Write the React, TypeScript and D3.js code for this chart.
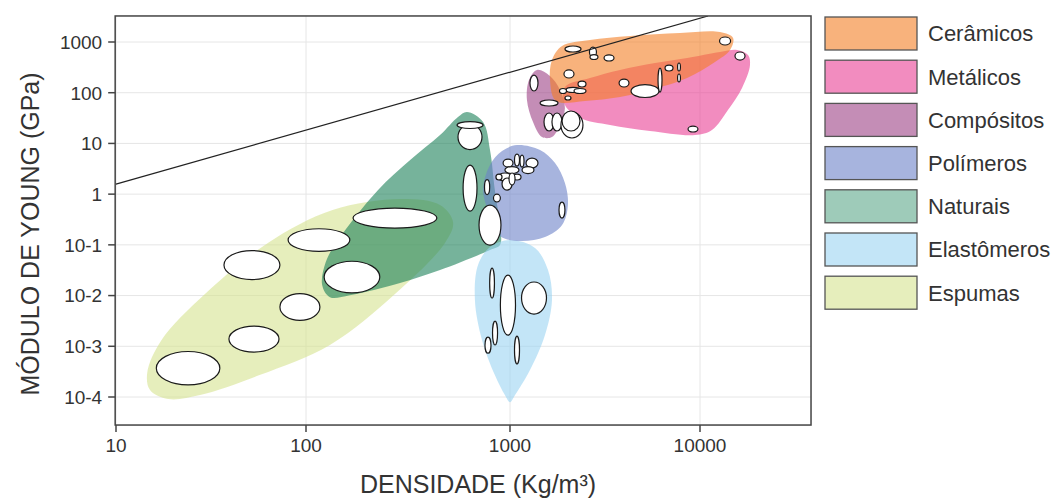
import React from "react";
import * as d3 from "d3";

// ---------- axis values ----------
const densityTicks = [10, 100, 1000, 10000];
const densityTickLabels = ["10", "100", "1000", "10000"];
const modulusTicks = [1000, 100, 10, 1, 0.1, 0.01, 0.001, 0.0001];
const modulusTickLabels = ["1000", "100", "10", "1", "10-1", "10-2", "10-3", "10-4"];
const densityDomain = [9.9, 38400];
const modulusDomain = [2.8e-5, 3260];

// ---------- families ----------
const families = ["Cerâmicos", "Metálicos", "Compósitos", "Polímeros", "Naturais", "Elastômeros", "Espumas"];

// outlines: [density kg/m3, Young modulus GPa]
const ceramicosOutline = [[1663, 441], [1879, 834], [2636, 1095], [4285, 1313], [7848, 1506], [12740, 1574], [14930, 1199], [14390, 695], [11990, 404], [8551, 195], [5453, 113], [3793, 82.2], [2483, 68.6], [1746, 68.6], [1624, 178]];
const metalicosOutline = [[1946, 129.5], [2636, 195], [3793, 281], [5796, 385], [8551, 483], [12740, 635], [15670, 695], [17900, 555], [18330, 351], [16640, 124], [14030, 45.6], [11560, 18.4], [9420, 14.6], [5453, 17.6], [3360, 23.1], [2336, 31.7], [1946, 57.1]];
const compositosOutline = [[1387, 281], [1624, 213], [1833, 113], [1946, 50], [1833, 23.1], [1663, 13.4], [1473, 13.4], [1322, 26.4], [1228, 72], [1259, 178]];
const polimerosOutline = [[1089, 9.29], [1439, 7.41], [1726, 4.1], [1946, 1.66], [2018, 0.61], [1879, 0.246], [1528, 0.143], [1129, 0.119], [893, 0.149], [798, 0.387], [738, 1.2], [798, 3.75], [914, 7.08]];
const naturaisOutline = [[615, 41.6], [738, 26.4], [798, 7.41], [843, 1.2], [893, 0.246], [893, 0.099], [798, 0.079], [454, 0.0318], [289, 0.0177], [164, 0.0102], [131, 0.0093], [120, 0.0161], [125, 0.0458], [143.5, 0.124], [225, 1.2], [324, 4.71], [454, 14.6], [556, 33.2]];
const elastomerosOutline = [[1000, 0.124], [1354, 0.0865], [1585, 0.0318], [1663, 0.00815], [1528, 0.00166], [1274, 0.00034], [1063, 0.000109], [1000, 0.000079], [944, 0.000109], [843, 0.00027], [729, 0.00133], [673, 0.00815], [697, 0.04], [798, 0.0906]];
const espumasOutline = [[14.6, 3.0e-4], [17.3, 1.3e-3], [29.4, 0.0107], [63, 0.109], [135, 0.485], [289, 0.8], [454, 0.61], [526, 0.28], [480, 0.109], [273, 0.0107], [131, 1.06e-3], [57, 2.7e-4], [27.7, 1.09e-4], [18.8, 9.1e-5], [15.1, 1.37e-4]];

// material ranges: [density min, density max, modulus min, modulus max]
const ceramicosRanges = [[1946, 2366, 635, 834], [2619, 2851, 506, 796], [2636, 2904, 452, 566], [3126, 3527, 422, 555], [12670, 14490, 873, 1255], [1923, 2172, 195, 281], [2280, 2512, 129.5, 170], [1972, 2336, 101, 127], [2172, 2512, 96.4, 121], [1822, 1983, 96.4, 121], [1946, 2094, 71.8, 86.1], [3750, 4229, 129.5, 186], [4335, 6085, 80.4, 145], [6012, 6310, 103, 307], [6546, 7211, 268, 351], [7621, 7889, 268, 385], [7621, 7889, 163, 234]];
const metalicosRanges = [[15280, 17260, 441, 635], [8650, 9755, 16.8, 22.0]];
const compositosRanges = [[1274, 1404, 108, 223], [1439, 1790, 54.7, 71.8], [1510, 1706, 17.6, 39.8], [1663, 1879, 17.6, 39.8], [1854, 2421, 12.8, 41.6], [1879, 2336, 17.6, 43.6]];
const polimerosRanges = [[925, 1037, 3.42, 4.92], [1056, 1122, 3.58, 6.18], [1129, 1185, 3.42, 5.9], [1214, 1404, 3.27, 5.15], [1157, 1337, 2.55, 3.5], [944, 1115, 2.55, 3.5], [873, 1025, 1.81, 2.61], [914, 1025, 1.2, 2.08], [1037, 1143, 1.9, 2.49], [989, 1063, 1.51, 2.61], [853, 914, 1.9, 2.49], [1811, 1946, 0.338, 0.698]];
const naturaisRanges = [[556, 729, 7.58, 23.6], [550, 738, 19.7, 27.0], [589, 689, 0.464, 3.75], [750, 795, 0.98, 1.94], [830, 897, 0.7, 1.0], [705, 903, 0.099, 0.61]];
const elastomerosRanges = [[795, 839, 0.0089, 0.0348], [897, 1069, 0.00166, 0.0254], [1150, 1556, 0.00432, 0.0185], [821, 869, 0.00106, 0.00314], [754, 807, 0.00073, 0.00152], [1056, 1122, 0.000446, 0.00159]];
const espumasRanges = [[16.3, 35.2, 1.74e-4, 7.9e-4], [39.3, 72.1, 7.7e-4, 2.5e-3], [72.9, 117, 3.24e-3, 0.0109], [37, 72.9, 0.0207, 0.0773], [80.5, 164, 0.0745, 0.208], [122.7, 230, 0.0113, 0.0475], [170, 438, 0.214, 0.532]];

// guide line
const guideLine = [[10, 1.58], [11020, 3260]];

// ---------- styles ----------
const legendColors = ["#f8b27c", "#f28cbf", "#c48db6", "#a7b4de", "#9ecbb9", "#c3e5f7", "#e6eebc"];
// semi-transparent fills (opacity 0.6) chosen so they read like the legend colours over white
const plotColors = ["#f37f25", "#e93f94", "#9d4185", "#6c82c8", "#1b8058", "#9bd4f2", "#d5e38f"];
const FILL_OPACITY = 0.6;
const FONT = "'Liberation Sans', Arial, Helvetica, sans-serif";

export default function App() {
  const x = d3.scaleLog().domain([10, 100, 1000, 10000]).range([116, 306, 510, 700]);
  const y = d3.scaleLog().domain([1000, 0.0001]).range([42, 397]);

  const left = x(densityDomain[0]);
  const right = x(densityDomain[1]);
  const top = y(modulusDomain[1]);
  const bottom = y(modulusDomain[0]);

  const outlines = [ceramicosOutline, metalicosOutline, compositosOutline, polimerosOutline, naturaisOutline, elastomerosOutline, espumasOutline];
  const ranges = [ceramicosRanges, metalicosRanges, compositosRanges, polimerosRanges, naturaisRanges, elastomerosRanges, espumasRanges];
  const drawOrder = [6, 4, 5, 3, 2, 1, 0];

  const blob = d3
    .line<number[]>()
    .x((d) => x(d[0]))
    .y((d) => y(d[1]))
    .curve(d3.curveCatmullRomClosed.alpha(0.5));

  const straight = d3
    .line<number[]>()
    .x((d) => x(d[0]))
    .y((d) => y(d[1]));

  const legendX = 825;
  const legendTop = 17;
  const legendStep = 43.2;

  return (
    <svg width={1057} height={499} style={{ position: "absolute", left: 0, top: 0, background: "#fff" }} fontFamily={FONT}>
      <defs>
        <clipPath id="plotClip">
          <rect x={left} y={top} width={right - left} height={bottom - top} />
        </clipPath>
      </defs>
      <rect x={0} y={0} width={1057} height={499} fill="#fff" />
      {/* grid */}
      <g stroke="#e6e6e6" strokeWidth={1}>
        {densityTicks.map((t) => (
          <line key={"gx" + t} x1={x(t)} x2={x(t)} y1={top} y2={bottom} />
        ))}
        {modulusTicks.map((t) => (
          <line key={"gy" + t} x1={left} x2={right} y1={y(t)} y2={y(t)} />
        ))}
      </g>
      {/* blobs */}
      <g clipPath="url(#plotClip)">
        {drawOrder.map((i) => (
          <path key={"b" + i} d={blob(outlines[i]) || ""} fill={plotColors[i]} fillOpacity={FILL_OPACITY} />
        ))}
      </g>
      {/* ellipses */}
      <g fill="#fff" stroke="#1a1a1a" strokeWidth={1.2}>
        {drawOrder.map((i) =>
          ranges[i].map((r, j) => {
            const x0 = x(r[0]);
            const x1 = x(r[1]);
            const y0 = y(r[2]);
            const y1 = y(r[3]);
            return (
              <ellipse key={"e" + i + "_" + j} cx={(x0 + x1) / 2} cy={(y0 + y1) / 2} rx={Math.abs(x1 - x0) / 2} ry={Math.abs(y0 - y1) / 2} />
            );
          })
        )}
      </g>
      {/* guide line */}
      <path d={straight(guideLine) || ""} fill="none" stroke="#222" strokeWidth={1.2} clipPath="url(#plotClip)" />
      {/* frame */}
      <rect x={left} y={top} width={right - left} height={bottom - top} fill="none" stroke="#444" strokeWidth={1.5} />
      {/* y axis */}
      {modulusTicks.map((t, i) => (
        <g key={"yt" + t}>
          <line x1={left - 7} x2={left} y1={y(t)} y2={y(t)} stroke="#444" strokeWidth={1.5} />
          <text x={left - 13} y={y(t)} dy="0.36em" textAnchor="end" fontSize={19} fill="#333">
            {modulusTickLabels[i]}
          </text>
        </g>
      ))}
      {/* x axis */}
      {densityTicks.map((t, i) => (
        <g key={"xt" + t}>
          <line x1={x(t)} x2={x(t)} y1={bottom} y2={bottom + 7} stroke="#444" strokeWidth={1.5} />
          <text x={x(t)} y={bottom + 27} textAnchor="middle" fontSize={19} fill="#333">
            {densityTickLabels[i]}
          </text>
        </g>
      ))}
      <text x={478} y={493} textAnchor="middle" fontSize={25} fill="#333">
        DENSIDADE (Kg/m³)
      </text>
      <text transform="translate(39,234) rotate(-90)" textAnchor="middle" fontSize={25} fill="#333">
        MÓDULO DE YOUNG (GPa)
      </text>
      {/* legend */}
      {families.map((f, i) => (
        <g key={"lg" + f} transform={`translate(${legendX},${legendTop + i * legendStep})`}>
          <rect x={0} y={0} width={92} height={33} fill={legendColors[i]} stroke="#555" strokeWidth={1.3} />
          <text x={103} y={16.5} dy="0.36em" fontSize={22} fill="#333">
            {f}
          </text>
        </g>
      ))}
    </svg>
  );
}
